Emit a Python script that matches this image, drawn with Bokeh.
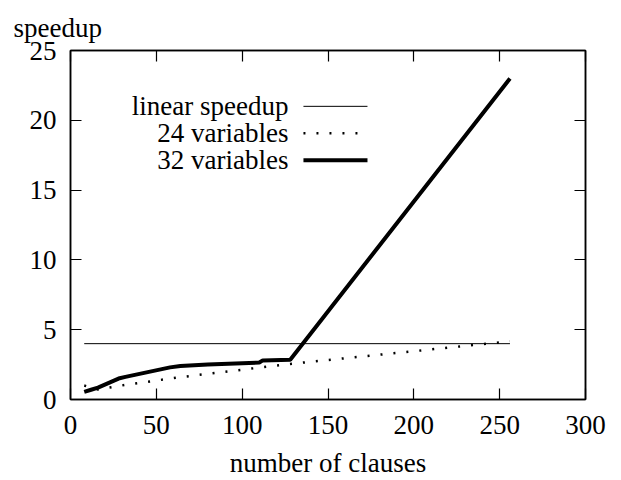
from bokeh.plotting import figure
from bokeh.models import Range1d, LinearAxis, FixedTicker, Label, CustomJSTickFormatter
from bokeh.embed import file_html
from bokeh.resources import INLINE

# ---- data ----
x_ticks = [0, 50, 100, 150, 200, 250, 300]
y_ticks = [0, 5, 10, 15, 20, 25]

linear_x = [8, 256]
linear_y = [4.0, 4.0]

clauses24 = [8, 16, 32, 64, 128, 256]
speedup24 = [1.0, 0.72, 1.05, 1.6, 2.55, 4.17]

clauses32 = [8, 12, 16, 28, 32, 58, 64, 80, 110, 112, 128, 256]
speedup32 = [0.55, 0.7, 0.85, 1.5, 1.62, 2.3, 2.4, 2.5, 2.65, 2.8, 2.85, 23.0]

legend_labels = ["linear speedup", "24 variables", "32 variables"]

FONT = "Liberation Serif"
FS = "27px"

p = figure(width=621, height=480, output_backend="svg", toolbar_location=None,
           x_range=Range1d(0, 300), y_range=Range1d(0, 25),
           min_border_left=70, min_border_right=36, min_border_top=50, min_border_bottom=80)
p.grid.visible = False
p.outline_line_color = "black"
p.outline_line_width = 1.5
p.background_fill_color = "white"
p.border_fill_color = "white"

def style_axis(ax, ticks, labels=True):
    ax.ticker = FixedTicker(ticks=ticks)
    ax.minor_tick_line_color = None
    ax.major_tick_in = 11
    ax.major_tick_out = 0
    ax.major_tick_line_color = "black"
    ax.major_tick_line_width = 1.2
    ax.axis_line_color = "black"
    ax.axis_line_width = 1.5
    ax.major_label_text_font = FONT
    ax.major_label_text_font_size = FS
    ax.major_label_text_color = "black"
    if not labels:
        ax.formatter = CustomJSTickFormatter(code="return ''")
        ax.major_label_standoff = 0

style_axis(p.xaxis[0], x_ticks)
style_axis(p.yaxis[0], y_ticks)
p.xaxis[0].major_label_standoff = 16
p.yaxis[0].major_label_standoff = 14
p.xaxis[0].axis_label = "number of clauses"
p.xaxis[0].axis_label_text_font = FONT
p.xaxis[0].axis_label_text_font_size = FS
p.xaxis[0].axis_label_text_font_style = "normal"
p.xaxis[0].axis_label_text_color = "black"
p.xaxis[0].axis_label_standoff = 11

top = LinearAxis()
style_axis(top, x_ticks, labels=False)
p.add_layout(top, "above")
right = LinearAxis()
style_axis(right, y_ticks, labels=False)
p.add_layout(right, "right")

# ---- y-axis title, gnuplot style above the frame ----
p.title.text = "speedup"
p.title.align = "left"
p.title.offset = -57
p.title.standoff = 16
p.title.text_font = FONT
p.title.text_font_size = FS
p.title.text_font_style = "normal"
p.title.text_color = "black"

# ---- series ----
p.line(linear_x, linear_y, line_color="black", line_width=1)
p.line(clauses24, speedup24, line_color="black", line_width=2.5, line_dash="2 11")
p.line(clauses32, speedup32, line_color="black", line_width=4)

# ---- legend (label left, sample right, gnuplot style) ----
leg_text_x = 127
leg_x0, leg_x1 = 135.7, 173
leg_rows = [21.0, 19.07, 17.14]
styles = [dict(line_width=1), dict(line_width=2.5, line_dash="2 11"), dict(line_width=4)]
for lab, yy, st in zip(legend_labels, leg_rows, styles):
    p.add_layout(Label(x=leg_text_x, y=yy, text=lab, text_align="right",
                       text_baseline="middle", text_font=FONT,
                       text_font_size=FS, text_color="black"))
    p.line([leg_x0, leg_x1], [yy, yy], line_color="black", **st)

open("out.html", "w").write(file_html(p, INLINE))
